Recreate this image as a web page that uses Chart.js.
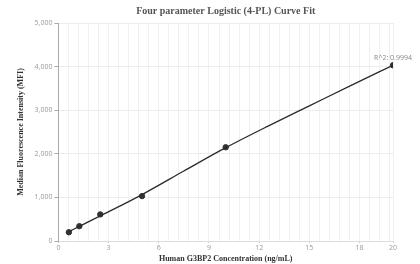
<!DOCTYPE html>
<html>
<head>
<meta charset="utf-8">
<script src="https://cdn.jsdelivr.net/npm/chart.js@4"></script>
<style>
  html, body { margin: 0; padding: 0; background: #fff; }
  #wrap { width: 420px; height: 264px; }
</style>
</head>
<body>
<div id="wrap"><canvas id="fitChart" width="420" height="264"></canvas></div>
<script>
// measured standards
const concentrations = [0.625, 1.25, 2.5, 5, 10, 20];
const mfiValues = [200, 340, 610, 1030, 2150, 4030];

// fitted 4-PL curve
const fitX = [0.625, 1.25, 2.5, 5, 7.5, 10, 12.5, 15, 17.5, 20];
const fitY = [215, 335, 575, 1065, 1605, 2140, 2630, 3100, 3570, 4030];

const xTickLabels = [0, 3, 6, 9, 12, 15, 18, 20];
const yTickLabels = [0, 1000, 2000, 3000, 4000, 5000];
const rSquared = "R^2: 0.9994";

// minor vertical grid every 0.6 (5 per labelled step)
const xGridValues = [];
for (let i = 0; i * 0.6 <= 20.001; i++) xGridValues.push(+(i * 0.6).toFixed(1));

const isMajor = v => xTickLabels.some(t => Math.abs(t - v) < 1e-6);

// R^2 text above the last point
const r2Label = {
  id: 'r2Label',
  afterDatasetsDraw(chart) {
    const xs = chart.scales.x, ys = chart.scales.y;
    const n = concentrations.length - 1;
    const ctx = chart.ctx;
    ctx.save();
    ctx.font = '7px "Open Sans", sans-serif';
    ctx.fillStyle = '#888';
    ctx.textAlign = 'center';
    ctx.textBaseline = 'bottom';
    ctx.fillText(rSquared, xs.getPixelForValue(concentrations[n]), ys.getPixelForValue(mfiValues[n]) - 4);
    ctx.restore();
  }
};

const ctx = document.getElementById('fitChart').getContext('2d');
new Chart(ctx, {
  type: 'scatter',
  data: {
    datasets: [
      {
        label: 'Fit',
        type: 'line',
        data: fitX.map((x, i) => ({ x: x, y: fitY[i] })),
        borderColor: '#2b2b2b',
        borderWidth: 1.3,
        pointRadius: 0,
        cubicInterpolationMode: 'monotone',
        fill: false
      },
      {
        label: 'Standards',
        data: concentrations.map((x, i) => ({ x: x, y: mfiValues[i] })),
        backgroundColor: '#333',
        borderColor: '#333',
        pointRadius: 2.7,
        pointHoverRadius: 2.7
      }
    ]
  },
  options: {
    responsive: false,
    animation: false,
    layout: { padding: { top: 4, right: 27, left: 16, bottom: 0 } },
    plugins: {
      legend: { display: false },
      tooltip: { enabled: false },
      title: {
        display: true,
        fullSize: false,
        text: 'Four parameter Logistic (4-PL) Curve Fit',
        color: '#555',
        font: { family: '"Liberation Serif", serif', size: 10, weight: 'bold' },
        padding: { top: 1, bottom: 6 }
      }
    },
    scales: {
      x: {
        type: 'linear',
        min: 0,
        max: 20,
        afterBuildTicks: axis => { axis.ticks = xGridValues.concat([20]).map(v => ({ value: v })); },
        ticks: {
          autoSkip: false,
          maxRotation: 0,
          color: '#999',
          font: { family: '"Open Sans", sans-serif', size: 7 },
          padding: 1,
          callback: v => isMajor(v) ? String(v) : ''
        },
        grid: {
          color: '#f0f0f0',
          tickLength: 2,
          tickColor: c => isMajor(c.tick.value) ? '#ccc' : 'rgba(0,0,0,0)'
        },
        border: { color: '#ddd' },
        title: {
          display: true,
          text: 'Human G3BP2 Concentration (ng/mL)',
          color: '#333',
          font: { family: '"Liberation Serif", serif', size: 8, weight: 'bold' },
          padding: { top: 1, bottom: 0 }
        }
      },
      y: {
        min: 0,
        max: 5000,
        afterBuildTicks: axis => { axis.ticks = yTickLabels.map(v => ({ value: v })); },
        ticks: {
          color: '#999',
          font: { family: '"Open Sans", sans-serif', size: 7 },
          padding: 2
        },
        grid: { color: '#ececec', tickLength: 4, tickColor: '#aaa' },
        border: { color: '#aaa' },
        title: {
          display: true,
          text: 'Median Fluorescence Intensity (MFI)',
          color: '#333',
          font: { family: '"Liberation Serif", serif', size: 8, weight: 'bold' },
          padding: { top: 0, bottom: 7 }
        }
      }
    }
  },
  plugins: [r2Label]
});
</script>
</body>
</html>
